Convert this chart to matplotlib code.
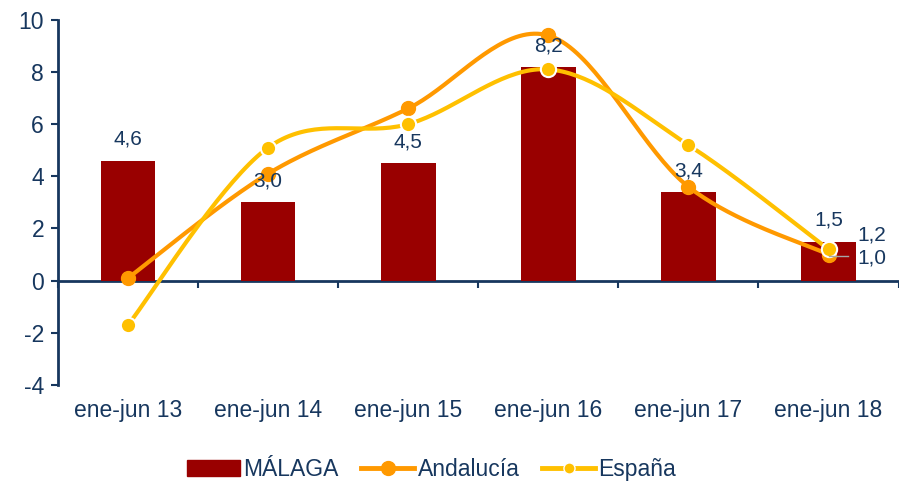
import matplotlib
matplotlib.use('Agg')
import numpy as np
import matplotlib.pyplot as plt
from matplotlib.lines import Line2D
from matplotlib.patches import Patch

plt.rcParams['font.family'] = ['Liberation Sans', 'DejaVu Sans']
plt.rcParams['axes.unicode_minus'] = False

periodos = ["ene-jun 13", "ene-jun 14", "ene-jun 15", "ene-jun 16", "ene-jun 17", "ene-jun 18"]
malaga = [4.6, 3.0, 4.5, 8.2, 3.4, 1.5]
andalucia = [0.1, 4.1, 6.6, 9.4, 3.6, 1.0]
espana = [-1.7, 5.1, 6.0, 8.1, 5.2, 1.2]

navy = '#17375E'
c_bar = '#990000'
c_and = '#FF9900'
c_esp = '#FFC000'


def smooth(xs, ys, n=40):
    # Excel-style smoothed line (cubic Bezier through points)
    xs = np.asarray(xs, float)
    ys = np.asarray(ys, float)
    P = np.column_stack([xs, ys])
    out = []
    for i in range(len(P) - 1):
        p0 = P[i - 1] if i > 0 else P[i]
        p1, p2 = P[i], P[i + 1]
        p3 = P[i + 2] if i + 2 < len(P) else P[i + 1]
        c1 = p1 + (p2 - p0) / 6
        c2 = p2 - (p3 - p1) / 6
        t = np.linspace(0, 1, n)[:, None]
        seg = (1 - t) ** 3 * p1 + 3 * (1 - t) ** 2 * t * c1 + 3 * (1 - t) * t ** 2 * c2 + t ** 3 * p2
        out.append(seg if i == 0 else seg[1:])
    s = np.vstack(out)
    return s[:, 0], s[:, 1]


fig = plt.figure(figsize=(8.99, 4.83), dpi=100)
ax = fig.add_axes([0.0645, 0.203, 0.935, 0.756])
x = np.arange(len(periodos))

ax.bar(x, malaga, width=0.39, color=c_bar, zorder=2)

sx, sy = smooth(x, andalucia)
ax.plot(sx, sy, color=c_and, lw=3, zorder=3, solid_capstyle='round')
ax.plot(x, andalucia, 'o', color=c_and, ms=10, mec=c_and, zorder=4)

sx, sy = smooth(x, espana)
ax.plot(sx, sy, color=c_esp, lw=3, zorder=5, solid_capstyle='round')
ax.plot(x, espana, 'o', color=c_esp, ms=11, mec='white', mew=1.5, zorder=6)

for xi, v in zip(x, malaga):
    ax.text(xi, v + 0.45, f"{v:.1f}".replace('.', ','), ha='center', va='bottom',
            fontsize=15, color=navy, zorder=7)

# last-point labels
ax.text(5.31, espana[-1] + 0.2, f"{espana[-1]:.1f}".replace('.', ','), ha='center', va='bottom',
        fontsize=15, color=navy, zorder=7)
ax.plot([5.0, 5.14], [andalucia[-1] - 0.05, andalucia[-1] - 0.05], color='#A6A6A6', lw=1, zorder=6)
ax.text(5.31, andalucia[-1] - 0.15, f"{andalucia[-1]:.1f}".replace('.', ','), ha='center', va='center',
        fontsize=15, color=navy, zorder=7)

ax.set_xlim(-0.5, 5.5)
ax.set_ylim(-4, 10)
ax.set_yticks(range(-4, 11, 2))
ax.tick_params(axis='y', colors=navy, labelsize=16.5, direction='out', length=5, width=1.5, pad=5)
ax.set_xticks(np.arange(-0.5, 5.6, 1))
ax.set_xticklabels([])
ax.tick_params(axis='x', colors=navy, direction='out', length=5, width=1.5)
for xi, lab in zip(x, periodos):
    ax.text(xi, -4.55, lab, ha='center', va='top', fontsize=16.5, color=navy)

for s in ['top', 'right']:
    ax.spines[s].set_visible(False)
ax.spines['left'].set_color(navy)
ax.spines['left'].set_linewidth(2)
ax.spines['bottom'].set_position(('data', 0))
ax.spines['bottom'].set_color(navy)
ax.spines['bottom'].set_linewidth(2)
ax.spines['bottom'].set_zorder(1)

handles = [Patch(color=c_bar, label='MÁLAGA'),
           Line2D([], [], color=c_and, lw=3.5, marker='o', ms=10, label='Andalucía'),
           Line2D([], [], color=c_esp, lw=3.5, marker='o', ms=8, mec='white', label='España')]
leg = fig.legend(handles=handles, loc='center', bbox_to_anchor=(0.48, 0.027), ncol=3, frameon=False,
                 fontsize=16.5, handlelength=2.3, handleheight=0.7, columnspacing=1.0, handletextpad=0.15)
for t in leg.get_texts():
    t.set_color(navy)

fig.savefig('out.png', dpi=100)
